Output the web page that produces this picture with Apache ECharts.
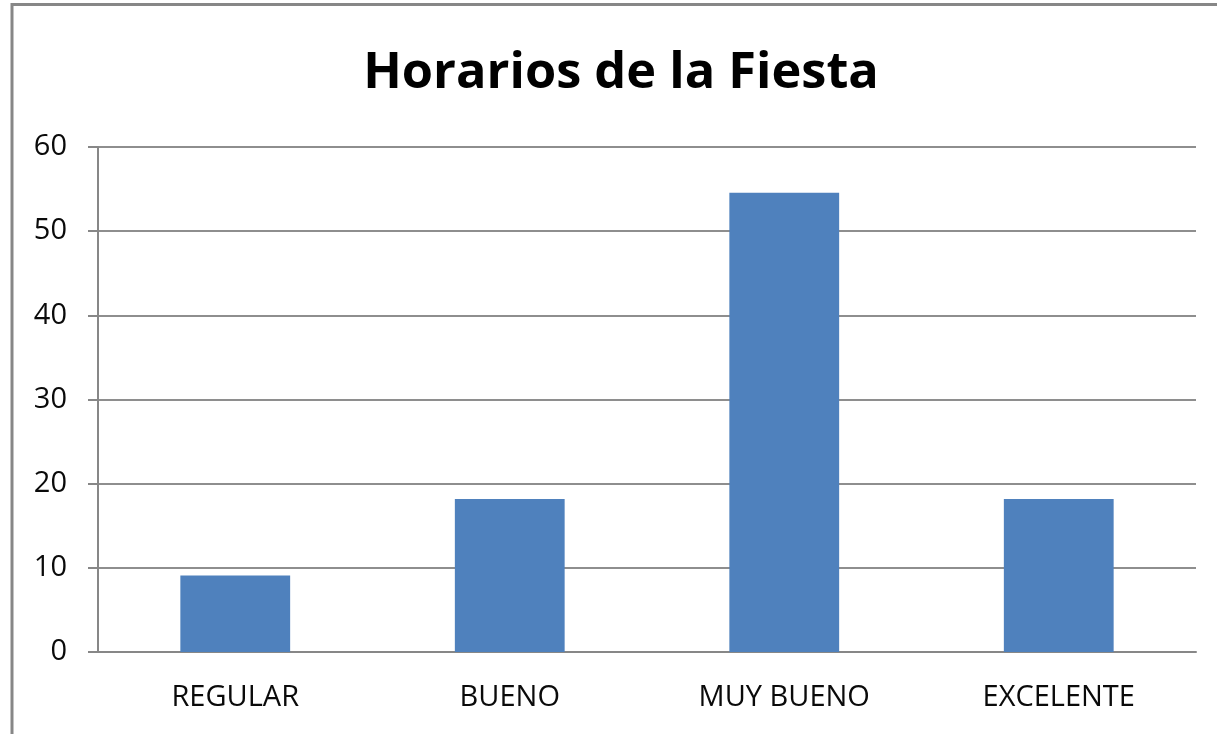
<!DOCTYPE html>
<html>
<head>
<meta charset="utf-8">
<script src="https://cdn.jsdelivr.net/npm/echarts@6/dist/echarts.min.js"></script>
<style>
html,body{margin:0;padding:0;background:#fff;}
#chart{width:1217px;height:734px;}
</style>
</head>
<body>
<div id="chart"></div>
<script>
const categories = ['REGULAR', 'BUENO', 'MUY BUENO', 'EXCELENTE'];
const values = [9.09, 18.18, 54.55, 18.18];
const yTicks = [0, 10, 20, 30, 40, 50, 60];
const titleText = 'Horarios de la Fiesta';

const chart = echarts.init(document.getElementById('chart'), null, {renderer: 'canvas'});
chart.setOption({
  animation: false,
  backgroundColor: '#ffffff',
  graphic: [{
    type: 'rect',
    shape: {x: 12, y: 4.5, width: 1400, height: 900},
    style: {fill: 'none', stroke: '#878787', lineWidth: 3},
    z: 100
  }],
  title: {
    text: titleText,
    left: 616,
    top: 43,
    textAlign: 'center',
    textStyle: {fontFamily: 'Open Sans', fontWeight: 'bold', fontSize: 50.5, color: '#000'}
  },
  grid: {left: 98, right: 21, top: 147, bottom: 82, containLabel: false},
  xAxis: {
    type: 'category',
    data: categories,
    axisLine: {show: true, lineStyle: {color: '#878787', width: 2}},
    axisTick: {show: false},
    axisLabel: {margin: 31, fontFamily: 'Open Sans', fontSize: 29, color: '#0a0a0a'}
  },
  yAxis: {
    type: 'value',
    min: yTicks[0],
    max: yTicks[yTicks.length - 1],
    interval: 10,
    axisLine: {show: true, lineStyle: {color: '#878787', width: 2}},
    axisTick: {show: true, inside: false, length: 10, lineStyle: {color: '#878787', width: 2}},
    splitLine: {show: true, lineStyle: {color: '#8e8e8e', width: 2}},
    axisLabel: {margin: 31, fontFamily: 'Open Sans', fontSize: 29, color: '#0a0a0a'}
  },
  series: [{
    type: 'bar',
    data: values,
    barWidth: '40%',
    itemStyle: {color: '#4f81bd'}
  }]
});
</script>
</body>
</html>
